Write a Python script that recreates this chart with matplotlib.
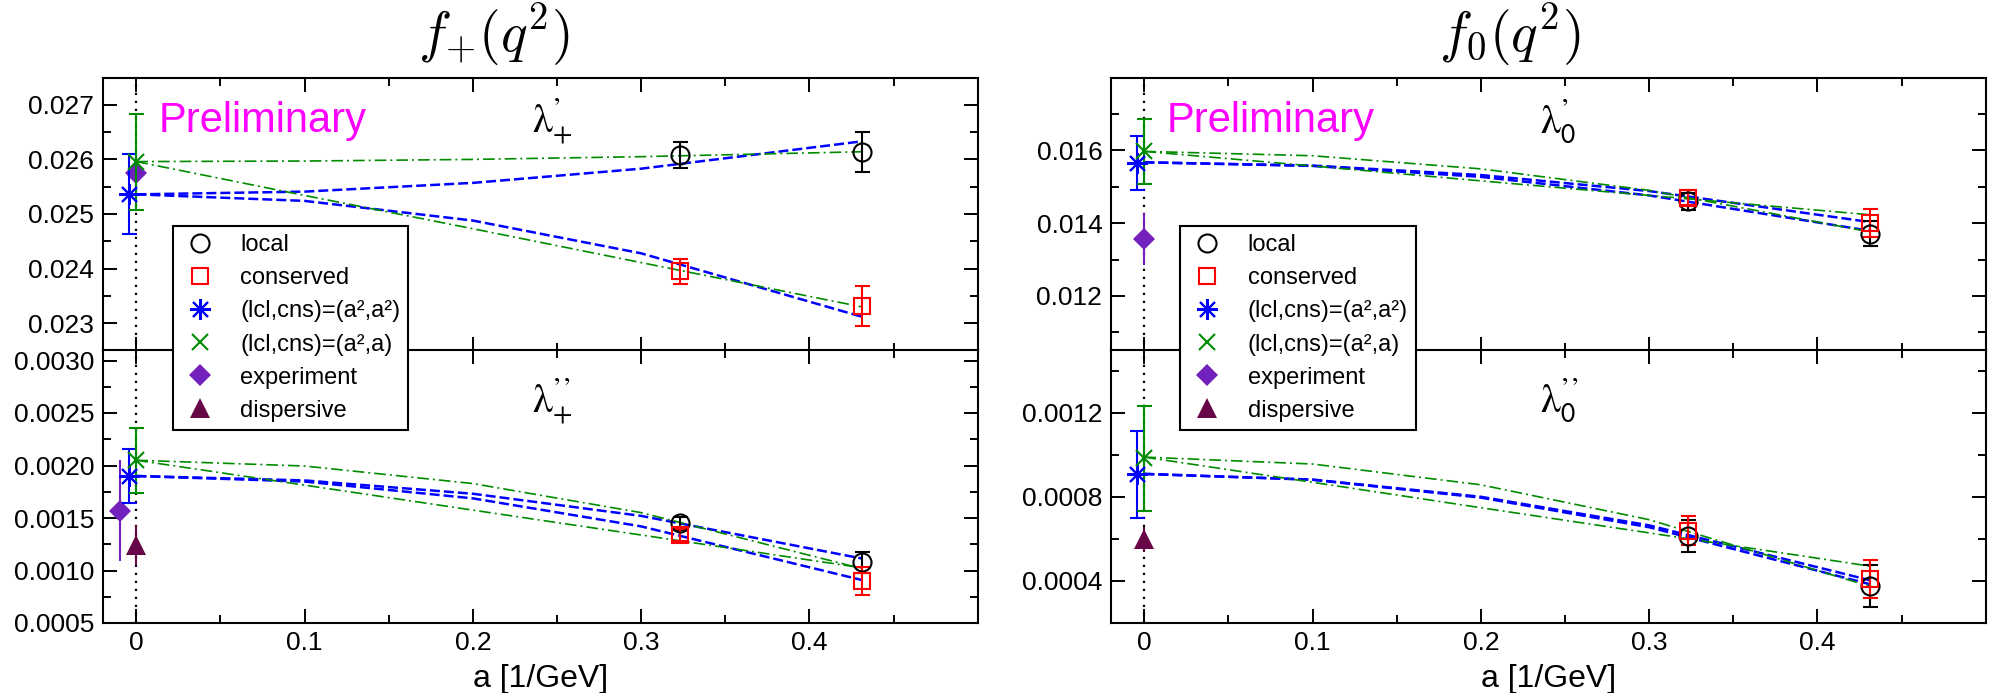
import matplotlib
matplotlib.use("Agg")
import matplotlib.pyplot as plt
from matplotlib.lines import Line2D
from matplotlib.ticker import FixedLocator, FormatStrFormatter, FuncFormatter

plt.rcParams["font.family"] = ["Liberation Sans", "DejaVu Sans"]

# lattice spacings [1/GeV] and extrapolation points
a_lat = [0.323, 0.431]
a_fit = [0.0, 0.1, 0.2, 0.3, 0.431]
a_cont = 0.0
a_fitA = -0.0045   # blue points drawn slightly left of a=0
a_exp_shift = -0.01

# --- f+ , lambda'_+ (top left)
fp1_local = [0.02608, 0.02614]
fp1_local_err = [0.00023, 0.00037]
fp1_cons = [0.02395, 0.02332]
fp1_cons_err = [0.00023, 0.00037]
fp1_fitA = 0.02536
fp1_fitA_err = 0.00073
fp1_fitB = 0.02596
fp1_fitB_err = 0.00088
fp1_exp = 0.02575
fp1_exp_err = 0.00036
fp1_curveA_lcl = [0.02536, 0.02541, 0.02557, 0.02583, 0.02633]
fp1_curveA_cns = [0.02536, 0.02524, 0.02488, 0.02428, 0.02312]
fp1_curveB_lcl = [0.02596, 0.02597, 0.02600, 0.02605, 0.02614]
fp1_curveB_cns = [0.02596, 0.02534, 0.02473, 0.02411, 0.02330]

# --- f+ , lambda''_+ (bottom left)
fp2_local = [0.00145, 0.00108]
fp2_local_err = [0.00006, 0.00010]
fp2_cons = [0.00134, 0.00090]
fp2_cons_err = [0.00006, 0.00013]
fp2_fitA = 0.00190
fp2_fitA_err = 0.00026
fp2_fitB = 0.00205
fp2_fitB_err = 0.00031
fp2_exp = 0.00157
fp2_exp_err = 0.00048
fp2_disp = 0.00124
fp2_disp_err = 0.00019
fp2_curveA_lcl = [0.00190, 0.001858, 0.001731, 0.00152, 0.001115]
fp2_curveA_cns = [0.00190, 0.001847, 0.001687, 0.00142, 0.00091]
fp2_curveB_lcl = [0.00205, 0.001995, 0.001828, 0.001551, 0.001019]
fp2_curveB_cns = [0.00205, 0.001813, 0.001575, 0.001338, 0.001026]

# --- f0 , lambda'_0 (top right)
f01_local = [0.01460, 0.01371]
f01_local_err = [0.00023, 0.00035]
f01_cons = [0.01470, 0.01401]
f01_cons_err = [0.00020, 0.00038]
f01_fitA = 0.01566
f01_fitA_err = 0.00074
f01_fitB = 0.01597
f01_fitB_err = 0.00089
f01_exp = 0.01356
f01_exp_err = 0.00071
f01_curveA_lcl = [0.01567, 0.01557, 0.01527, 0.01476, 0.01379]
f01_curveA_cns = [0.01567, 0.01558, 0.01532, 0.01488, 0.01403]
f01_curveB_lcl = [0.01597, 0.01585, 0.01549, 0.01490, 0.01376]
f01_curveB_cns = [0.01597, 0.01557, 0.01516, 0.01476, 0.01423]

# --- f0 , lambda''_0 (bottom right)
f02_local = [0.000615, 0.000375]
f02_local_err = [0.000077, 0.00010]
f02_cons = [0.00064, 0.00041]
f02_cons_err = [0.00007, 0.00009]
f02_fitA = 0.000908
f02_fitA_err = 0.000206
f02_fitB = 0.000985
f02_fitB_err = 0.00025
f02_disp = 0.000598
f02_disp_err = 0.00006
f02_curveA_lcl = [0.00091, 0.000882, 0.000797, 0.000656, 0.000385]
f02_curveA_cns = [0.00091, 0.000883, 0.000801, 0.000665, 0.000404]
f02_curveB_lcl = [0.00099, 0.000957, 0.000858, 0.000692, 0.000375]
f02_curveB_cns = [0.00099, 0.00087, 0.000749, 0.000629, 0.000471]

legend_labels = ["local", "conserved", "(lcl,cns)=(a²,a²)",
                 "(lcl,cns)=(a²,a)", "experiment", "dispersive"]

BLUE = "#0000ff"
GREEN = "#008b00"
RED = "#ff0000"
INDIGO = "#7221bc"
MAROON = "#670748"
STAR = (8, 2, 0)

EB = dict(capsize=5.4, elinewidth=1.5, capthick=1.5, ls="none")


def style_axes(ax, ylim, ymajor, yminor, yfmt, show_x):
    ax.set_xlim(-0.02, 0.5)
    ax.set_ylim(*ylim)
    ax.xaxis.set_major_locator(FixedLocator([0, 0.1, 0.2, 0.3, 0.4]))
    ax.xaxis.set_minor_locator(FixedLocator([0.05, 0.15, 0.25, 0.35, 0.45]))
    ax.yaxis.set_major_locator(FixedLocator(ymajor))
    ax.yaxis.set_minor_locator(FixedLocator(yminor))
    ax.yaxis.set_major_formatter(FormatStrFormatter(yfmt))
    ax.xaxis.set_major_formatter(FuncFormatter(lambda v, p: "0" if abs(v) < 1e-9 else "%.1f" % v))
    ax.tick_params(which="both", direction="in", top=True, right=True,
                   width=1.4, labelsize=19, pad=6)
    ax.tick_params(which="major", length=10)
    ax.tick_params(which="minor", length=5.5)
    if not show_x:
        ax.tick_params(labelbottom=False)
    else:
        ax.set_xlabel("a [1/GeV]", fontsize=23, labelpad=6)
    for s in ax.spines.values():
        s.set_linewidth(1.5)
    ax.axvline(0, color="black", lw=1.6, ls=(0, (1, 2.6)), zorder=1)


def draw_curves(ax, cA_l, cA_c, cB_l, cB_c):
    for c in (cA_l, cA_c):
        ax.plot(a_fit, c, color=BLUE, lw=1.8, ls=(0, (4, 1.6)), zorder=2)
    for c in (cB_l, cB_c):
        ax.plot(a_fit, c, color=GREEN, lw=1.2, ls=(0, (7, 2.4, 1.2, 2.4)), zorder=2)


def draw_points(ax, loc, loc_e, cns, cns_e, fA, fA_e, fB, fB_e,
                exp=None, exp_e=None, exp_x=0.0, disp=None, disp_e=None):
    ax.errorbar(a_lat, loc, yerr=loc_e, color="black", marker="o", ms=13,
                mfc="none", mew=1.5, zorder=4, **EB)
    ax.errorbar(a_lat, cns, yerr=cns_e, color=RED, marker="s", ms=12,
                mfc="none", mew=1.5, zorder=4, **EB)
    if exp is not None:
        ax.errorbar([exp_x], [exp], yerr=[exp_e], color=INDIGO, marker="D",
                    ms=11, mew=0, zorder=3, **EB)
    if disp is not None:
        ax.errorbar([a_cont], [disp], yerr=[disp_e], color=MAROON, marker="^",
                    ms=15, mew=0, zorder=3, **EB)
    ax.errorbar([a_fitA], [fA], yerr=[fA_e], color=BLUE, marker=STAR, ms=15,
                mew=1.5, zorder=5, **EB)
    ax.errorbar([a_cont], [fB], yerr=[fB_e], color=GREEN, marker="x", ms=12,
                mew=1.5, zorder=5, **EB)


def lam_label(ax, y, s):
    ax.text(0.235, y, s, transform=ax.get_xaxis_transform(), fontsize=29,
            va="baseline", math_fontfamily="stix", zorder=6)


def prelim(ax):
    ax.text(0.064, 0.80, "Preliminary", transform=ax.transAxes,
            color="#ff00ff", fontsize=30, va="baseline", zorder=6)


def title(ax, x, s):
    ax.annotate(s, xy=(x, 1), xycoords=("data", "axes fraction"),
                xytext=(0, 6), textcoords="offset points", ha="center",
                va="bottom", fontsize=40, math_fontfamily="cm",
                annotation_clip=False)


def legend_handles():
    return [
        Line2D([], [], ls="none", marker="o", mfc="none", mec="black", ms=13, mew=1.5),
        Line2D([], [], ls="none", marker="s", mfc="none", mec=RED, ms=12, mew=1.5),
        Line2D([], [], ls="none", marker=STAR, color=BLUE, ms=15, mew=1.5),
        Line2D([], [], ls="none", marker="x", color=GREEN, ms=12, mew=1.5),
        Line2D([], [], ls="none", marker="D", color=INDIGO, ms=11, mew=0),
        Line2D([], [], ls="none", marker="^", color=MAROON, ms=15, mew=0),
    ]


def add_legend(fig, x0, y0):
    leg = fig.legend(legend_handles(), legend_labels, loc="upper left",
                     bbox_to_anchor=(x0, y0), fontsize=17, frameon=True,
                     fancybox=False, edgecolor="black", framealpha=1,
                     borderaxespad=0, handlelength=1.6, handletextpad=0.9,
                     labelspacing=0.47, borderpad=0.35)
    leg.get_frame().set_linewidth(1.5)


def main():
    W, H = 1994, 693
    fig = plt.figure(figsize=(W / 100, H / 100), dpi=100)
    axw = 875 / W
    top_b, bot_b, axh = (693 - 350.5) / H, 70 / H, 273 / H
    ax_lt = fig.add_axes([102.7 / W, top_b, axw, axh])
    ax_lb = fig.add_axes([102.7 / W, bot_b, axw, axh])
    ax_rt = fig.add_axes([1110.7 / W, top_b, axw, axh])
    ax_rb = fig.add_axes([1110.7 / W, bot_b, axw, axh])

    style_axes(ax_lt, (0.0225, 0.0275), [0.023, 0.024, 0.025, 0.026, 0.027],
               [0.0235, 0.0245, 0.0255, 0.0265], "%.3f", False)
    style_axes(ax_lb, (0.0005, 0.0031), [0.0005, 0.0010, 0.0015, 0.0020, 0.0025, 0.0030],
               [0.00075, 0.00125, 0.00175, 0.00225, 0.00275], "%.4f", True)
    style_axes(ax_rt, (0.0105, 0.018), [0.012, 0.014, 0.016],
               [0.011, 0.013, 0.015, 0.017], "%.3f", False)
    style_axes(ax_rb, (0.0002, 0.0015), [0.0004, 0.0008, 0.0012],
               [0.0006, 0.0010, 0.0014], "%.4f", True)

    draw_curves(ax_lt, fp1_curveA_lcl, fp1_curveA_cns, fp1_curveB_lcl, fp1_curveB_cns)
    draw_points(ax_lt, fp1_local, fp1_local_err, fp1_cons, fp1_cons_err,
                fp1_fitA, fp1_fitA_err, fp1_fitB, fp1_fitB_err,
                exp=fp1_exp, exp_e=fp1_exp_err, exp_x=a_cont)

    draw_curves(ax_lb, fp2_curveA_lcl, fp2_curveA_cns, fp2_curveB_lcl, fp2_curveB_cns)
    draw_points(ax_lb, fp2_local, fp2_local_err, fp2_cons, fp2_cons_err,
                fp2_fitA, fp2_fitA_err, fp2_fitB, fp2_fitB_err,
                exp=fp2_exp, exp_e=fp2_exp_err, exp_x=a_exp_shift,
                disp=fp2_disp, disp_e=fp2_disp_err)

    draw_curves(ax_rt, f01_curveA_lcl, f01_curveA_cns, f01_curveB_lcl, f01_curveB_cns)
    draw_points(ax_rt, f01_local, f01_local_err, f01_cons, f01_cons_err,
                f01_fitA, f01_fitA_err, f01_fitB, f01_fitB_err,
                exp=f01_exp, exp_e=f01_exp_err, exp_x=a_cont)

    draw_curves(ax_rb, f02_curveA_lcl, f02_curveA_cns, f02_curveB_lcl, f02_curveB_cns)
    draw_points(ax_rb, f02_local, f02_local_err, f02_cons, f02_cons_err,
                f02_fitA, f02_fitA_err, f02_fitB, f02_fitB_err,
                disp=f02_disp, disp_e=f02_disp_err)

    lam_label(ax_lt, 0.797, r"$\mathrm{\lambda}^{\mathrm{’}}_{+}$")
    lam_label(ax_lb, 0.771, r"$\mathrm{\lambda}^{\mathrm{’’}}_{+}$")
    lam_label(ax_rt, 0.797, r"$\mathrm{\lambda}^{\mathrm{’}}_{\mathsf{0}}$")
    lam_label(ax_rb, 0.771, r"$\mathrm{\lambda}^{\mathrm{’’}}_{\mathsf{0}}$")

    prelim(ax_lt)
    prelim(ax_rt)
    title(ax_lt, 0.2126, r"$f_{+}(q^2)$")
    title(ax_rt, 0.217, r"$f_{0}(q^2)$")

    add_legend(fig, 172.8 / W, 1 - 226 / H)
    add_legend(fig, 1180.3 / W, 1 - 226 / H)

    fig.savefig("out.png", dpi=100)


if __name__ == "__main__":
    main()
